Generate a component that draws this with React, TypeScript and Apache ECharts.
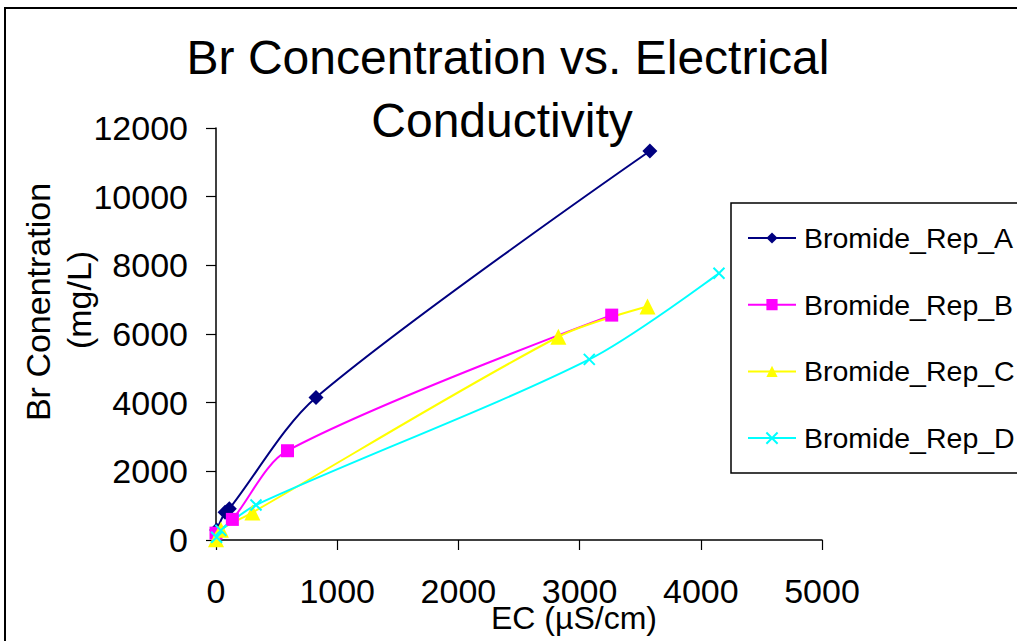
import React, { useEffect, useRef } from "react";
import * as echarts from "echarts";

// EC (µS/cm) vs Br concentration (mg/L) for each replicate
const repA: [number, number][] = [
  [5, 290], [75, 810], [110, 910], [825, 4150], [3580, 11330],
];
const repB: [number, number][] = [
  [0, 200], [135, 600], [590, 2600], [3265, 6550],
];
const repC: [number, number][] = [
  [0, 20], [40, 300], [300, 800], [2825, 5920], [3560, 6800],
];
const repD: [number, number][] = [
  [5, 80], [40, 280], [330, 1020], [3080, 5260], [4150, 7770],
];

const seriesNames = ["Bromide_Rep_A", "Bromide_Rep_B", "Bromide_Rep_C", "Bromide_Rep_D"];
const titleLines = ["Br Concentration vs. Electrical", "Conductivity"];
const xTitle = "EC (µS/cm)";
const yTitleLines = ["Br Conentration", "(mg/L)"];

const FONT = "'Liberation Sans', Arial, sans-serif";

export default function App() {
  const ref = useRef<HTMLDivElement>(null);

  useEffect(() => {
    if (!ref.current) return;
    const chart = echarts.init(ref.current, undefined, { renderer: "svg" });

    const line = (
      name: string,
      data: [number, number][],
      color: string,
      symbol: string,
      symbolSize: number,
      extraItem: object = {}
    ) => ({
      name,
      type: "line",
      data,
      smooth: 0.3,
      symbol,
      symbolSize,
      showSymbol: true,
      lineStyle: { color, width: 2 },
      itemStyle: { color, ...extraItem },
    });

    const plain = (v: number) => String(v);

    chart.setOption({
      animation: false,
      backgroundColor: "#ffffff",
      textStyle: { fontFamily: FONT, color: "#000" },
      grid: { left: 216, right: 195, top: 128, bottom: 101 },
      xAxis: {
        type: "value",
        min: 0,
        max: 5000,
        interval: 1000,
        axisLine: { show: true, lineStyle: { color: "#000", width: 1.5 } },
        axisTick: { show: true, inside: false, length: 10, lineStyle: { color: "#000", width: 1.2 } },
        axisLabel: { fontSize: 34, color: "#000", margin: 34, fontFamily: FONT, formatter: plain },
        splitLine: { show: false },
      },
      yAxis: {
        type: "value",
        min: 0,
        max: 12000,
        interval: 2000,
        axisLine: { show: true, lineStyle: { color: "#000", width: 1.5 } },
        axisTick: { show: true, inside: false, length: 10, lineStyle: { color: "#000", width: 1.2 } },
        axisLabel: { fontSize: 34, color: "#000", margin: 28, fontFamily: FONT, formatter: plain },
        splitLine: { show: false },
      },
      legend: {
        orient: "vertical",
        left: 747,
        top: 223,
        padding: 0,
        itemWidth: 48,
        itemHeight: 14,
        itemGap: 36.7,
        data: seriesNames,
        textStyle: { fontSize: 28.5, lineHeight: 30, color: "#000", fontFamily: FONT, padding: [0, 0, 0, 3] },
      },
      graphic: [
        {
          type: "rect",
          shape: { x: 5, y: 8, width: 1100, height: 700 },
          style: { fill: "none", stroke: "#000", lineWidth: 2 },
          silent: true,
        },
        {
          type: "rect",
          shape: { x: 731, y: 203, width: 320, height: 270 },
          style: { fill: "none", stroke: "#000", lineWidth: 1.5 },
          silent: true,
        },
        {
          type: "text",
          x: 508,
          y: 57,
          style: { text: titleLines[0], font: `48px ${FONT}`, fill: "#000", textAlign: "center", textVerticalAlign: "middle" },
        },
        {
          type: "text",
          x: 502,
          y: 120,
          style: { text: titleLines[1], font: `48px ${FONT}`, fill: "#000", textAlign: "center", textVerticalAlign: "middle" },
        },
        {
          type: "text",
          x: 574,
          y: 618,
          style: { text: xTitle, font: `32px ${FONT}`, fill: "#000", textAlign: "center", textVerticalAlign: "middle" },
        },
        {
          type: "text",
          x: 38,
          y: 302,
          rotation: Math.PI / 2,
          style: { text: yTitleLines[0], font: `34px ${FONT}`, fill: "#000", textAlign: "center", textVerticalAlign: "middle" },
        },
        {
          type: "text",
          x: 79,
          y: 300,
          rotation: Math.PI / 2,
          style: { text: yTitleLines[1], font: `34px ${FONT}`, fill: "#000", textAlign: "center", textVerticalAlign: "middle" },
        },
      ],
      series: [
        line(seriesNames[0], repA, "#000080", "diamond", 15),
        line(seriesNames[1], repB, "#FF00FF", "rect", 13),
        line(seriesNames[2], repC, "#FFFF00", "triangle", 16),
        line(seriesNames[3], repD, "#00FFFF", "path://M0,0L10,10M10,0L0,10", 11, {
          borderColor: "#00FFFF",
          borderWidth: 2,
        }),
      ],
    });

    return () => chart.dispose();
  }, []);

  return (
    <div
      ref={ref}
      style={{ position: "fixed", left: 0, top: 0, width: 1017, height: 641, background: "#fff" }}
    />
  );
}
